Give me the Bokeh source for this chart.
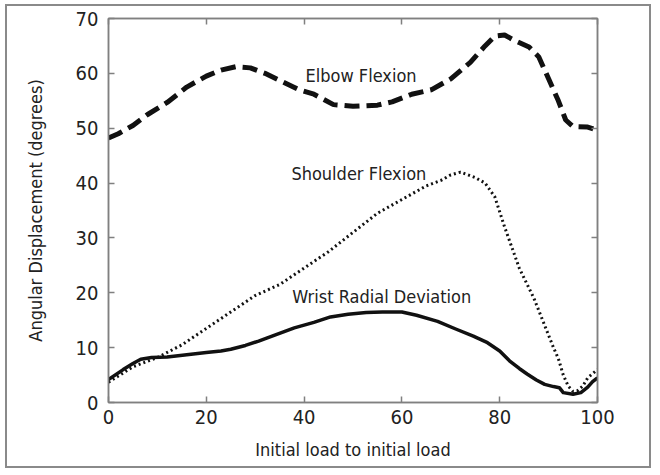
from bokeh.plotting import figure
from bokeh.models import Range1d, LinearAxis, FixedTicker, ColumnDataSource
from bokeh.core.properties import value
from bokeh.embed import file_html
from bokeh.resources import INLINE

# ---- data ----
elbow_x = [0, 2, 5, 8, 12, 16, 20, 23, 26, 29, 32, 35, 39, 42, 46, 50, 55, 58, 62, 66,
           70, 74, 77, 79, 81, 83, 86, 88, 90, 92, 93.5, 95, 98, 100]
elbow_y = [48.2, 49, 50.5, 52.5, 54.7, 57.5, 59.5, 60.6, 61.2, 61, 60, 58.7, 57, 56.2, 54.3, 54, 54.2, 54.8, 56.2, 57,
           59, 62, 65, 66.8, 67, 66, 64.8, 63, 59, 55, 51.5, 50.3, 50.2, 49.6]

shoulder_x = [0, 5, 10, 15, 20, 25, 30, 35, 40, 45, 50, 55, 60, 65, 68, 70, 72, 75, 77, 79,
              81, 84, 87, 89, 91, 92, 93, 94, 95, 96, 97, 98, 100]
shoulder_y = [3.7, 6.5, 8.2, 10.5, 13.5, 16.5, 19.5, 21.5, 24.5, 27.5, 31, 34.5, 37, 39.5, 40.5, 41.5, 42, 41, 40, 37.5,
              32, 24.5, 19, 14.5, 10, 8, 5, 3, 2, 2.2, 3, 4.5, 6]

wrist_x = [0, 3, 5, 6.6, 8.8, 12, 16, 20, 23, 25, 28, 30.7, 34, 38, 42, 45.4, 49, 52.7, 56, 60,
           63, 67.3, 71, 74.6, 77.5, 80, 82, 84, 85.6, 87.5, 89.2, 91, 92.2, 93, 95, 96.6, 98, 99, 100]
wrist_y = [4.2, 6.0, 7.1, 7.9, 8.2, 8.3, 8.7, 9.1, 9.4, 9.7, 10.4, 11.2, 12.3, 13.6, 14.6, 15.6, 16.1, 16.4, 16.5, 16.5,
           15.9, 14.8, 13.4, 12.1, 10.9, 9.4, 7.6, 6.2, 5.2, 4.1, 3.3, 2.9, 2.7, 1.8, 1.5, 1.8, 2.8, 3.8, 4.5]

label_text = ["Elbow Flexion", "Shoulder Flexion", "Wrist Radial Deviation"]
label_x = [40.3, 37.4, 37.6]
label_y = [59.6, 41.7, 19.3]

x_ticks = [0, 20, 40, 60, 80, 100]
y_ticks = [0, 10, 20, 30, 40, 50, 60, 70]

FONT = "'DejaVu Sans Condensed', 'Liberation Sans Narrow', 'Roboto', sans-serif"
FS = "18px"
TXT = "#222222"
GRAY = "#808080"

p = figure(width=646, height=464, output_backend="svg", toolbar_location=None,
           x_range=Range1d(0, 100), y_range=Range1d(0, 70),
           min_border_left=101, min_border_right=56, min_border_top=12, min_border_bottom=68,
           x_axis_label="Initial load to initial load",
           y_axis_label="Angular Displacement (degrees)")
p.styles = {"border": "2px solid #8a8a8a", "margin": "4px 0 0 5px"}
p.xgrid.visible = False
p.ygrid.visible = False
p.outline_line_color = GRAY
p.outline_line_width = 1.5
p.background_fill_color = "white"
p.border_fill_color = "white"

for ax, ticks in ((p.xaxis[0], x_ticks), (p.yaxis[0], y_ticks)):
    ax.ticker = FixedTicker(ticks=ticks)
    ax.minor_tick_line_color = None
    ax.major_tick_in = 6
    ax.major_tick_out = 0
    ax.axis_line_color = GRAY
    ax.axis_line_width = 1.5
    ax.major_tick_line_color = GRAY
    ax.major_tick_line_width = 1.5
    ax.major_label_text_font = FONT
    ax.major_label_text_font_size = "20px"
    ax.major_label_text_color = TXT
    ax.axis_label_text_font = FONT
    ax.axis_label_text_font_size = FS
    ax.axis_label_text_font_style = "normal"
    ax.axis_label_text_color = TXT

p.xaxis[0].major_label_standoff = 7
p.xaxis[0].axis_label_standoff = 12
p.yaxis[0].major_label_standoff = 10
p.yaxis[0].axis_label_standoff = 27

for loc, ticks in (("above", x_ticks), ("right", y_ticks)):
    ax = LinearAxis(ticker=FixedTicker(ticks=ticks))
    ax.minor_tick_line_color = None
    ax.major_tick_in = 6
    ax.major_tick_out = 0
    ax.axis_line_color = GRAY
    ax.axis_line_width = 1.5
    ax.major_tick_line_color = GRAY
    ax.major_tick_line_width = 1.5
    ax.major_label_text_font_size = "0px"
    ax.major_label_text_color = None
    ax.major_label_standoff = 0
    p.add_layout(ax, loc)

p.line(elbow_x, elbow_y, line_color="#111111", line_width=5, line_dash="15 7")
p.line(shoulder_x, shoulder_y, line_color="#111111", line_width=3, line_dash="2 3")
p.line(wrist_x, wrist_y, line_color="#111111", line_width=3.5, line_join="round")

src = ColumnDataSource(dict(x=label_x, y=label_y, t=label_text))
p.text(x="x", y="y", text="t", source=src, text_font=value(FONT), text_font_size=FS,
       text_color=TXT, text_baseline="middle", text_align="left")

open("out.html", "w").write(file_html(p, INLINE))
